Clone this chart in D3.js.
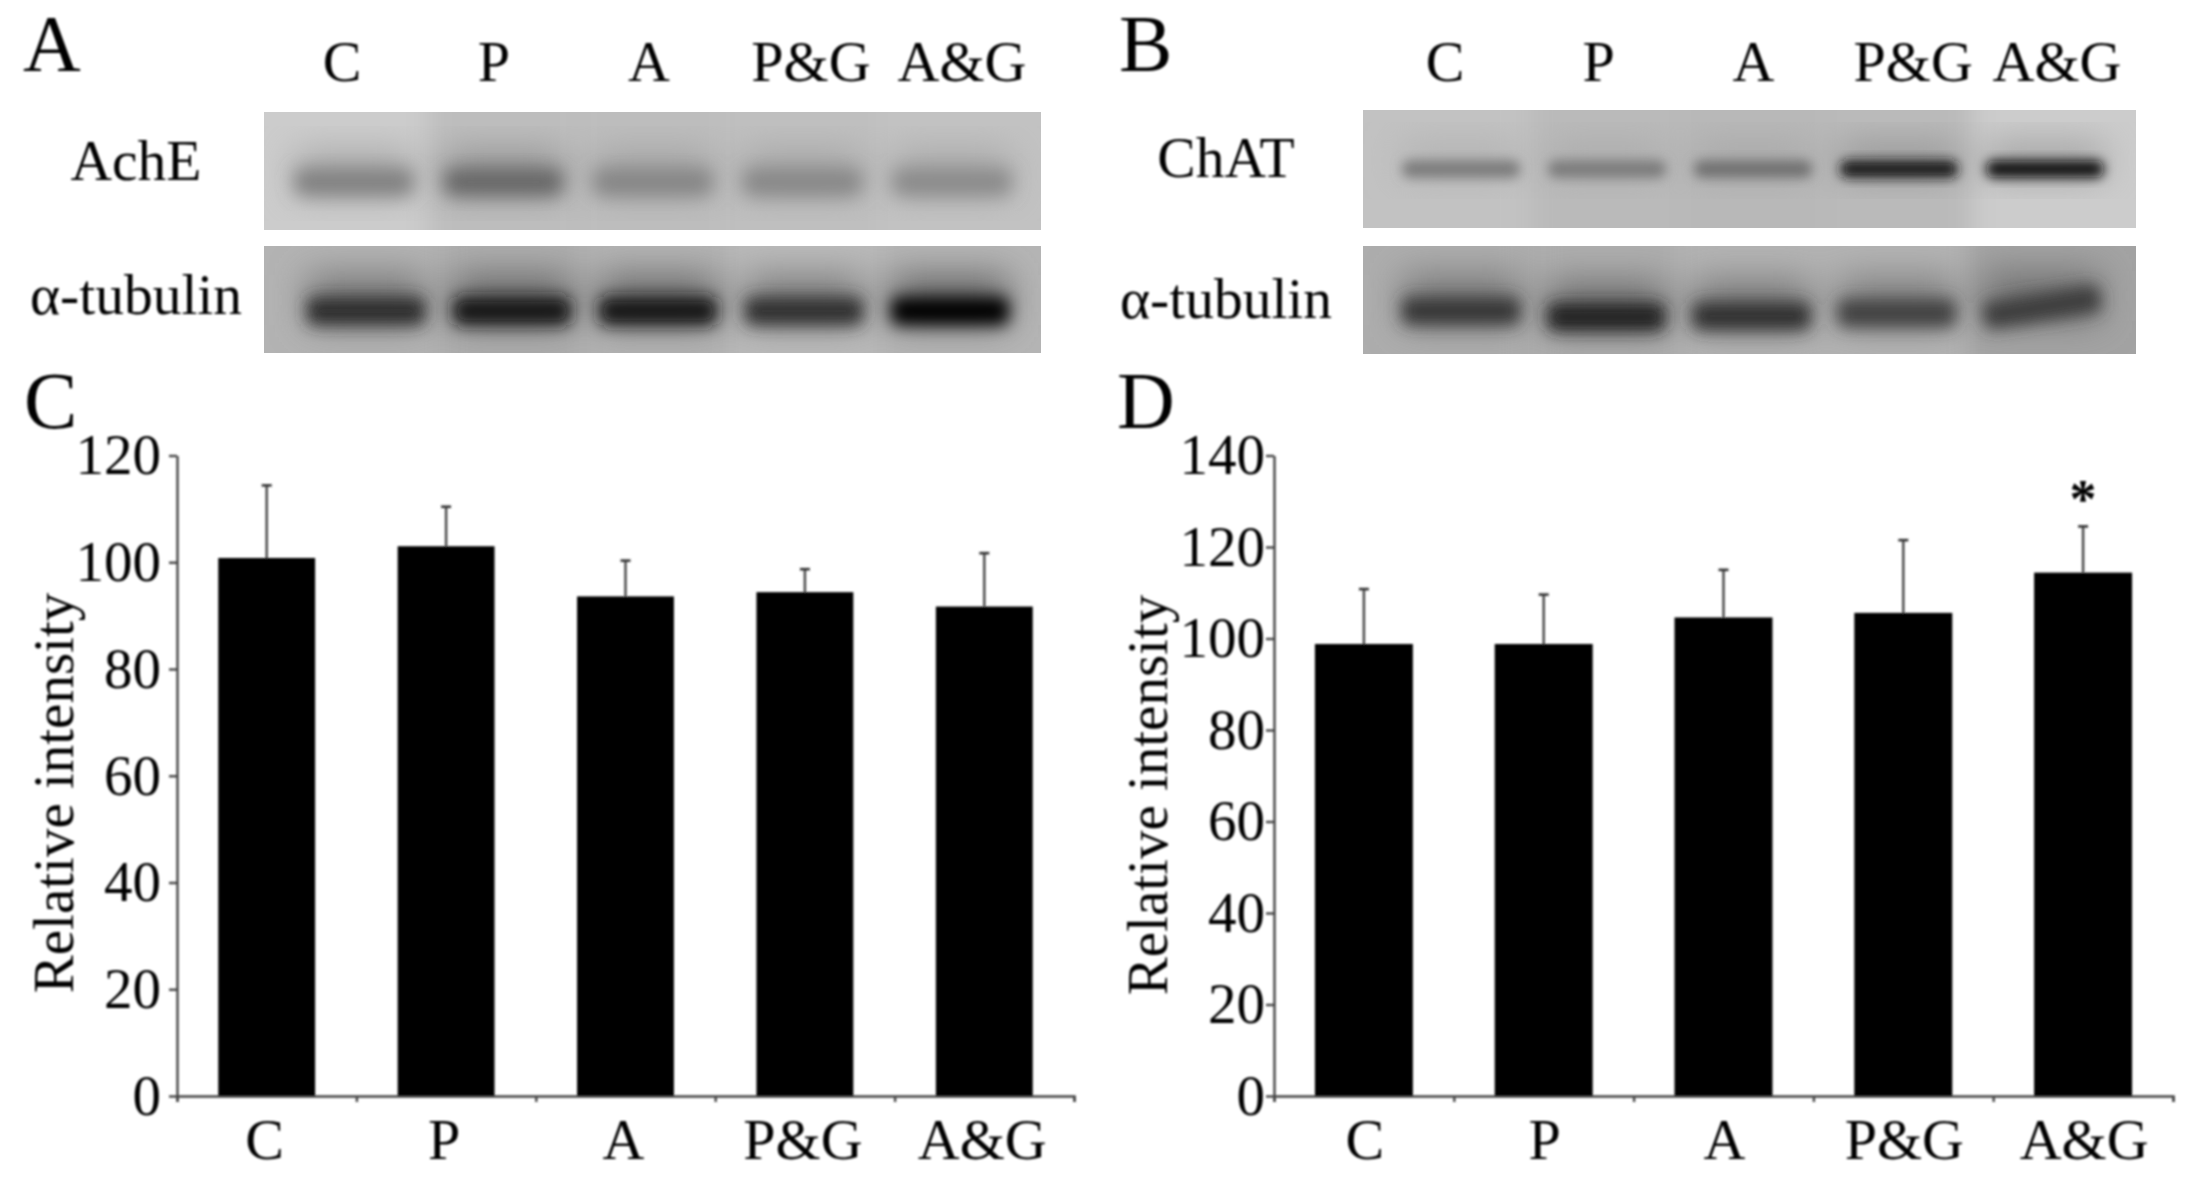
<!DOCTYPE html>
<html><head><meta charset="utf-8">
<script src="https://cdn.jsdelivr.net/npm/d3@7"></script>
<style>html,body{margin:0;background:#fff}svg{display:block}text{font-family:"Liberation Serif",serif;fill:#000}</style>
</head><body><svg id="c" width="2187" height="1185"></svg>
<script>
const groups=["C","P","A","P&G","A&G"];
const aValues=[100.8,103,93.6,94.4,91.7];
const aErrTops=[114.4,110.4,100.3,98.7,101.7];
const dValues=[98.8,98.8,104.6,105.6,114.4];
const dErrTops=[110.8,109.6,115,121.5,124.5];
const yTicksA=[0,20,40,60,80,100,120];
const yTicksD=[0,20,40,60,80,100,120,140];
// estimated band darkness per lane (0 = white, 1 = black)
const acheBand=[.50,.60,.48,.47,.46];
const acheBg=[.20,.26,.26,.25,.24];
const tubABand=[.82,.92,.92,.80,.98];
const tubABg=[.30,.32,.30,.27,.29];
const chatBand=[.52,.52,.56,.90,.95];
const chatBg=[.24,.27,.28,.27,.20];
const tubBBand=[.78,.86,.80,.74,.76];
const tubBBg=[.32,.32,.30,.30,.36];
const tubBShift=[-3,3,2,-1,-7];
const tubBTilt=[0,0,0,0,-9];
const flat=[0,0,0,0,0];
const topNudgeA=[0,-3,-3,4,0];
const topNudgeB=[0,0,1,7,-3];

const svg=d3.select("#c");
const defs=svg.append("defs");
[["b9",9],["b8",8],["b6",6],["b16",18],["b12",12],["soft",.8]].forEach(([id,s])=>
  defs.append("filter").attr("id",id).attr("x","-30%").attr("y","-60%").attr("width","160%").attr("height","220%")
  .append("feGaussianBlur").attr("stdDeviation",s));
const gray=d=>d3.rgb(255*(1-d),255*(1-d),255*(1-d)).formatHex();

function blot(id,x0,x1,y0,y1,centerX0,centerX1,bandY,bandH,bandW,smear,smearAmt,bands,bgs,bandBlur,shift=flat,tilt=flat){
  defs.append("clipPath").attr("id",id).append("rect").attr("x",x0).attr("y",y0).attr("width",x1-x0).attr("height",y1-y0);
  const g=svg.append("g").attr("clip-path",`url(#${id})`);
  const lane=d3.scalePoint().domain(groups).range([centerX0,centerX1]);
  const step=lane.step();
  g.append("rect").attr("x",x0).attr("y",y0).attr("width",x1-x0).attr("height",y1-y0).attr("fill",gray(d3.mean(bgs)));
  g.append("g").attr("filter","url(#b12)").selectAll("rect").data(groups).join("rect")
    .attr("x",(d,i)=>i==0?x0-40:lane(d)-step/2).attr("y",y0-30).attr("width",(d,i)=>(i==0||i==4)?step+60:step).attr("height",y1-y0+60)
    .attr("fill",(d,i)=>gray(bgs[i]));
  g.append("g").attr("filter","url(#b16)").selectAll("rect").data(groups).join("rect")
    .attr("x",d=>lane(d)-bandW/2).attr("y",(d,i)=>bandY+shift[i]-smear).attr("width",bandW).attr("height",smear+bandH/2)
    .attr("fill",(d,i)=>gray(bgs[i]+(bands[i]-bgs[i])*smearAmt));
  g.append("g").attr("filter",`url(#${bandBlur})`).selectAll("rect").data(groups).join("rect")
    .attr("x",d=>lane(d)-bandW/2).attr("y",(d,i)=>bandY+shift[i]-bandH/2).attr("width",bandW).attr("height",bandH)
    .attr("rx",8).attr("fill",(d,i)=>gray(bands[i]))
    .attr("transform",(d,i)=>`rotate(${tilt[i]},${lane(d)},${bandY+shift[i]})`);
}
blot("bA1",264,1041,112,230,354,952,182,26,118,30,.5,acheBand,acheBg,"b9");
blot("bA2",264,1041,246,353,366,950,311,28,118,36,.45,tubABand,tubABg,"b8");
blot("bB1",1363,2136,110,228,1461,2045,169,17,118,26,.22,chatBand,chatBg,"b6");
blot("bB2",1363,2136,246,354,1461,2042,314,28,118,36,.45,tubBBand,tubBBg,"b8",tubBShift,tubBTilt);

const root=svg.append("g").attr("filter","url(#soft)");
const T=(s,x,y,size,anchor="middle")=>root.append("text").attr("x",x).attr("y",y).attr("font-size",size).attr("text-anchor",anchor).text(s);
[["A",23,71],["B",1119,71],["C",24,428],["D",1117,428]].forEach(([s,x,y])=>T(s,x,y,80,"start"));

function topLabels(x0,x1,nudge){
  const p=d3.scalePoint().domain(groups).range([x0,x1]);
  root.append("g").selectAll("text").data(groups).join("text").attr("x",(d,i)=>p(d)+nudge[i]).attr("y",81).attr("font-size",58).attr("text-anchor","middle").text(d=>d);
}
topLabels(342,962,topNudgeA); topLabels(1445,2060,topNudgeB);
T("AchE",136,180,57.5); T("α-tubulin",136,314,57.5); T("ChAT",1226,177,57.5); T("α-tubulin",1226,318,57.5);

function chart(x0,x1,yMax,ticks,values,tops,labelX,labelY,pad,inner,labelDx){
  const y=d3.scaleLinear().domain([0,yMax]).range([1096,455.5]);
  const xb=d3.scaleBand().domain(groups).range([x0,x1]).paddingInner(inner).paddingOuter(inner/2);
  const xt=d3.scaleLinear().domain([0,5]).range([x0,x1]);
  const barW=xb.bandwidth();
  const g=root.append("g");
  const ya=g.append("g").attr("transform",`translate(${x0},0)`).call(d3.axisLeft(y).tickValues(ticks).tickSize(8).tickSizeOuter(0).tickPadding(pad));
  ya.selectAll("text").attr("font-size",57);
  const xa=g.append("g").attr("transform",`translate(${labelDx},1096)`).call(d3.axisBottom(xb).tickSize(0).tickPadding(22));
  xa.selectAll("text").attr("font-size",58);
  xa.select(".domain").remove();
  const xm=g.append("g").attr("transform",`translate(0,1096)`).call(d3.axisBottom(xt).tickValues(d3.range(6)).tickSize(6).tickFormat(""));
  g.selectAll(".domain,.tick line").attr("stroke","#444").attr("stroke-width",2.4);
  xa.selectAll(".tick line").remove();
  g.selectAll(".tick text").attr("fill","#000").attr("font-family",'"Liberation Serif",serif');
  g.selectAll("rect.bar").data(groups).join("rect").attr("class","bar")
    .attr("x",d=>xb(d)).attr("width",barW).attr("y",(d,i)=>y(values[i])).attr("height",(d,i)=>y(0)-y(values[i])).attr("fill","#000");
  g.selectAll("line.err").data(groups).join("line").attr("class","err")
    .attr("x1",d=>xb(d)+barW/2).attr("x2",d=>xb(d)+barW/2).attr("y1",(d,i)=>y(values[i])).attr("y2",(d,i)=>y(tops[i])).attr("stroke","#444").attr("stroke-width",2.4);
  g.selectAll("line.cap").data(groups).join("line").attr("class","cap")
    .attr("x1",d=>xb(d)+barW/2-5).attr("x2",d=>xb(d)+barW/2+5).attr("y1",(d,i)=>y(tops[i])).attr("y2",(d,i)=>y(tops[i])).attr("stroke","#333").attr("stroke-width",2.6);
  g.append("text").attr("transform",`translate(${labelX},${labelY}) rotate(-90)`).attr("text-anchor","middle").attr("font-size",57).text("Relative intensity");
  return {y,xb,barW};
}
chart(177,1074,120,yTicksA,aValues,aErrTops,73,793,8,.46,-2);
const d=chart(1274,2173,140,yTicksD,dValues,dErrTops,1167,795,1,.455,1);
T("*",d.xb("A&G")+d.barW/2,517,54).attr("font-weight","bold");
</script></body></html>
